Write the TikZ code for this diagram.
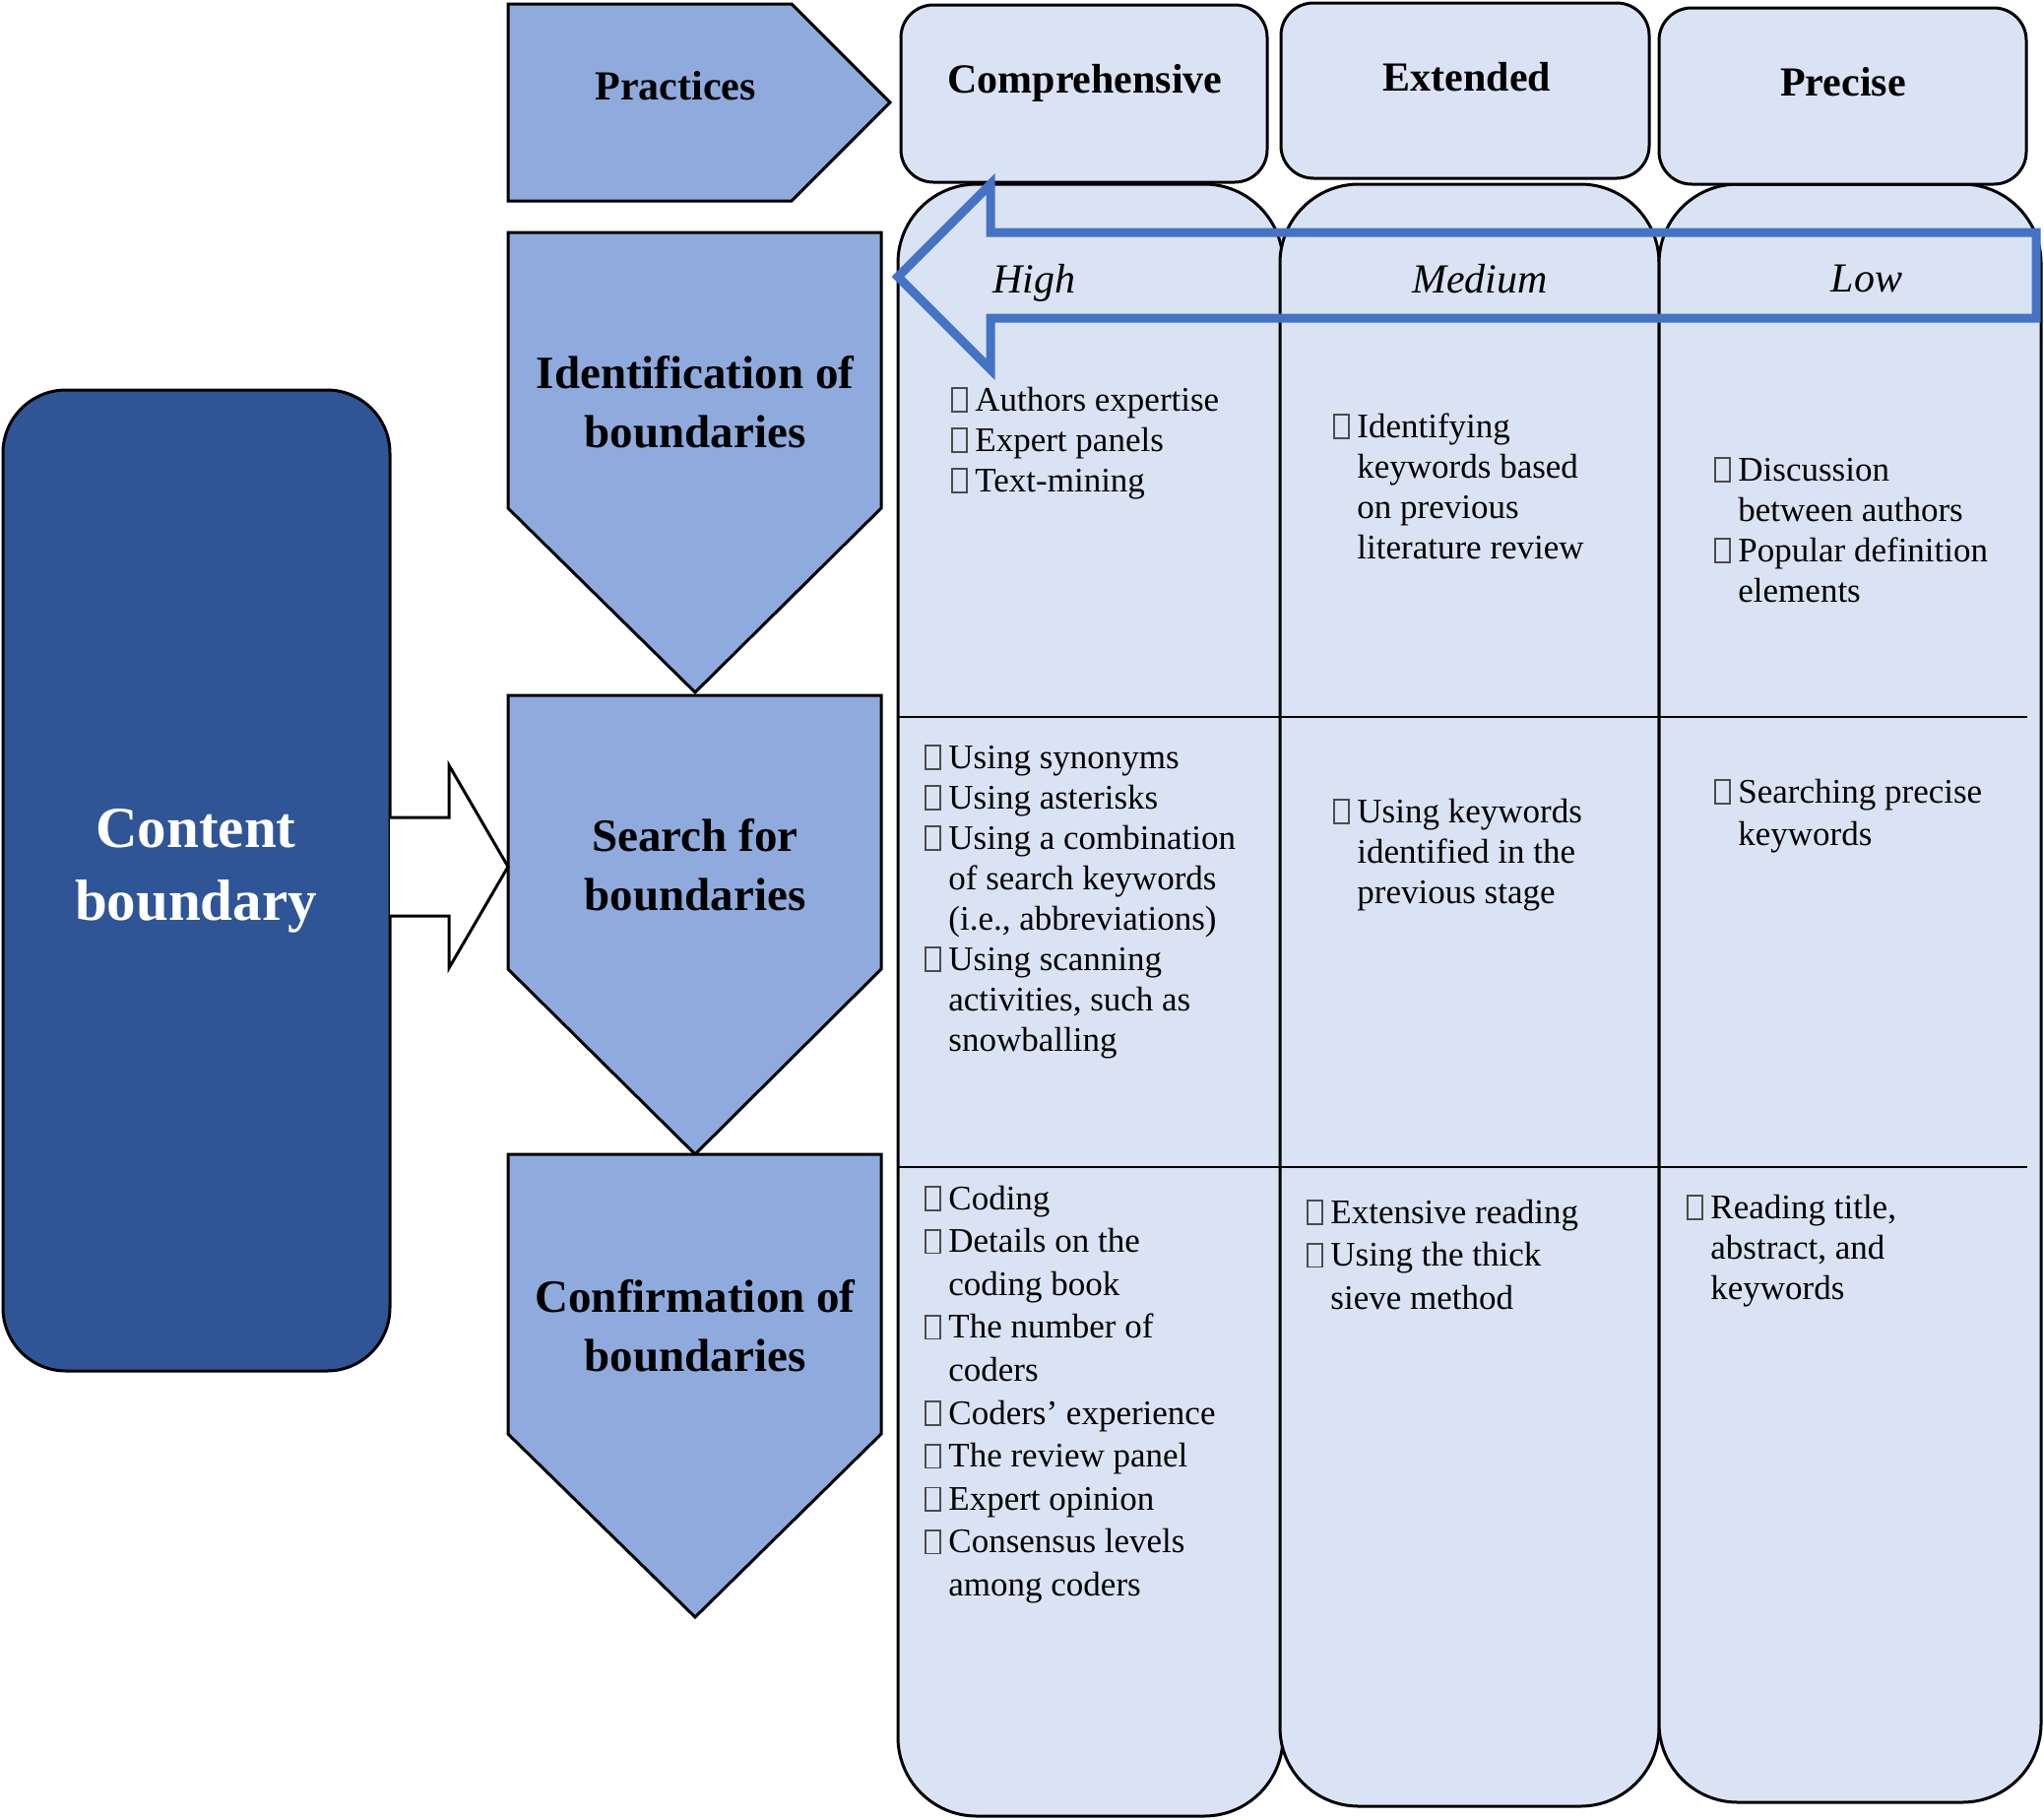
\documentclass[tikz,border=0pt]{standalone}
\usepackage{fontspec}
\setmainfont{Liberation Serif}
\usetikzlibrary{calc}
\definecolor{cellblue}{HTML}{DAE3F3}
\definecolor{pentblue}{HTML}{8FAADC}
\definecolor{darkblue}{HTML}{2F5597}
\definecolor{arrowblue}{HTML}{4472C4}
\newcommand\bx{\makebox[12pt][l]{\color{black!70}\setlength\fboxrule{0.8pt}\setlength\fboxsep{0pt}\fbox{\rule{0pt}{11pt}\rule{6.5pt}{0pt}}}}
\newcommand\celltab[1]{\begin{tabular}[t]{@{}l@{}l@{}}#1\end{tabular}}
\tikzset{
  shapeline/.style={draw=black, line width=1.5pt, line join=miter},
  pent/.style={shapeline, fill=pentblue},
  cellbox/.style={shapeline, fill=cellblue, rounded corners=40pt},
  headbox/.style={shapeline, fill=cellblue, rounded corners=16.5pt},
  headtxt/.style={font=\bfseries\fontsize{21}{25}\selectfont, inner sep=0pt},
  penttxt/.style={font=\bfseries\fontsize{23.5}{30}\selectfont, align=center, inner sep=0pt},
  lvl/.style={font=\itshape\fontsize{21}{25}\selectfont, inner sep=0pt},
  celltxt/.style={anchor=base west, inner sep=0pt, font=\fontsize{17.5}{20.5}\selectfont},
  celltxtw/.style={anchor=base west, inner sep=0pt, font=\fontsize{17.5}{21.8}\selectfont},
  rowline/.style={draw=black, line width=1pt},
}
\begin{document}
\begin{tikzpicture}[x=0.5pt, y=-0.5pt]
\useasboundingbox (0,0) rectangle (2076,1847);

% columns
\draw[cellbox] (912,187) rectangle (1303,1844);
\draw[cellbox] (1300,187) rectangle (1685,1834);
\draw[cellbox] (1685,187) rectangle (2073,1830);
\draw[rowline] (912,728) -- (2059,728);
\draw[rowline] (912,1185) -- (2059,1185);

% headers
\draw[headbox] (915,5) rectangle (1287,185);
\draw[headbox] (1301,3) rectangle (1675,181);
\draw[headbox] (1685,8) rectangle (2058,187);
\node[headtxt] (hcomp) at (1102,84) {Comprehensive};
\node[headtxt] (hext) at (1490,78) {Extended};
\node[headtxt] (hprec) at (1872,83) {Precise};

% level arrow
\draw[draw=arrowblue, line width=4.5pt, line join=miter]
  (2068,236) -- (1006,236) -- (1006,187) -- (912,281) -- (1006,375) -- (1006,323) -- (2068,323) -- cycle;
\node[lvl] (high) at (1050,287) {High};
\node[lvl] (med) at (1503,283) {Medium};
\node[lvl] (low) at (1896,283) {Low};

% pentagons
\draw[pent] (516,4) -- (804,4) -- (904,104) -- (804,204) -- (516,204) -- cycle;
\node[headtxt] (prac) at (686,87) {Practices};
\draw[pent] (516,236) -- (895,236) -- (895,516) -- (706,703) -- (516,516) -- cycle;
\node[penttxt] (ident) at (706,408) {Identification of\\boundaries};
\draw[pent] (516,706) -- (895,706) -- (895,984) -- (706,1172) -- (516,984) -- cycle;
\node[penttxt] (search) at (706,878) {Search for\\boundaries};
\draw[pent] (516,1172) -- (895,1172) -- (895,1456) -- (706,1642) -- (516,1456) -- cycle;
\node[penttxt] (confirm) at (706,1346) {Confirmation of\\boundaries};

% content boundary
\draw[shapeline, fill=darkblue, rounded corners=32pt] (3,396) rectangle (396,1392);
\node[penttxt, text=white, font=\bfseries\fontsize{29.5}{37}\selectfont] (cb) at (199,884) {Content\\boundary};

% hollow arrow connector
\coordinate (cbR) at (396,880);
\coordinate (srchL) at (516,880);
\draw[shapeline, fill=white]
  ($(cbR)+(0,-50)$) -- ($(srchL)+(-60,-50)$) -- ($(srchL)+(-60,-103)$) -- (srchL)
  -- ($(srchL)+(-60,103)$) -- ($(srchL)+(-60,50)$) -- ($(cbR)+(0,50)$);

% cell texts
\node[celltxt] (c11) at (966,417) {\celltab{%
\bx & Authors expertise\\
\bx & Expert panels\\
\bx & Text-mining}};
\node[celltxt] (c12) at (1354,444) {\celltab{%
\bx & Identifying\\
 & keywords based\\
 & on previous\\
 & literature review}};
\node[celltxt] (c13) at (1741,488) {\celltab{%
\bx & Discussion\\
 & between authors\\
\bx & Popular definition\\
 & elements}};
\node[celltxt] (c21) at (939,780) {\celltab{%
\bx & Using synonyms\\
\bx & Using asterisks\\
\bx & Using a combination\\
 & of search keywords\\
 & (i.e., abbreviations)\\
\bx & Using scanning\\
 & activities, such as\\
 & snowballing}};
\node[celltxt] (c22) at (1354,835) {\celltab{%
\bx & Using keywords\\
 & identified in the\\
 & previous stage}};
\node[celltxtw] (c23) at (1741,815) {\celltab{%
\bx & Searching precise\\
 & keywords}};
\node[celltxtw] (c31) at (939,1228) {\celltab{%
\bx & Coding\\
\bx & Details on the\\
 & coding book\\
\bx & The number of\\
 & coders\\
\bx & Coders’ experience\\
\bx & The review panel\\
\bx & Expert opinion\\
\bx & Consensus levels\\
 & among coders}};
\node[celltxtw] (c32) at (1327,1242) {\celltab{%
\bx & Extensive reading\\
\bx & Using the thick\\
 & sieve method}};
\node[celltxt] (c33) at (1713,1237) {\celltab{%
\bx & Reading title,\\
 & abstract, and\\
 & keywords}};
\end{tikzpicture}
\end{document}
